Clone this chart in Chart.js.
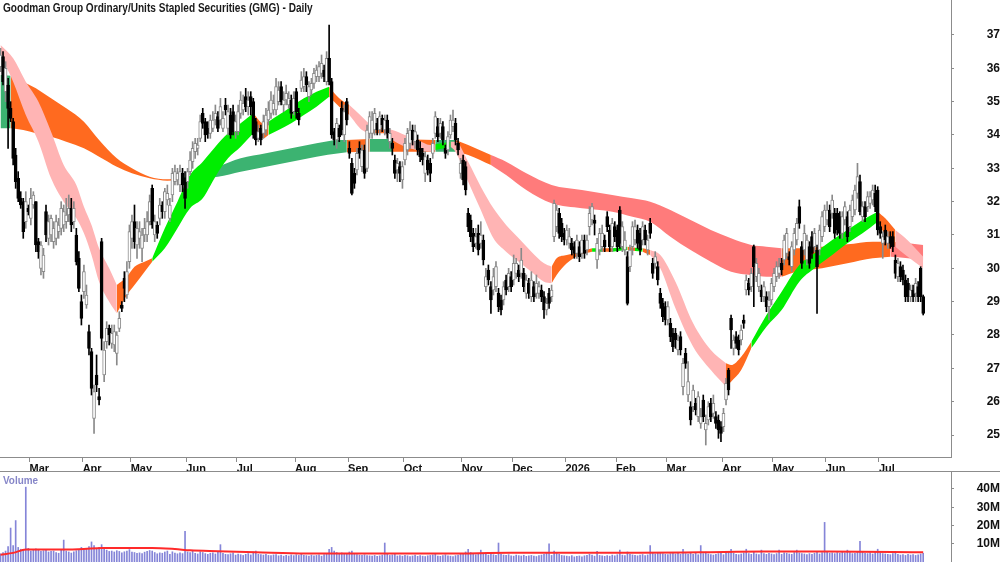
<!DOCTYPE html>
<html>
<head>
<meta charset="utf-8">
<script src="https://cdn.jsdelivr.net/npm/chart.js@4.4.1/dist/chart.umd.min.js"></script>
<style>
  body { margin: 0; background: #fff; }
  #board { position: relative; width: 1000px; height: 562px; overflow: hidden; background: #fff; }
  #priceChart { position: absolute; left: 0; top: 0; }
  #volChart { position: absolute; left: 0; top: 472px; }
  .caption { position: absolute; font-family: "Liberation Sans Narrow", "Liberation Sans", Arial, sans-serif; font-weight: bold; white-space: nowrap; transform-origin: 0 0; }
  #title { left: 3px; top: 1px; font-size: 12px; color: #1a1a1a; transform: scaleX(0.84); }
  #volTitle { left: 3px; top: 474px; font-size: 11px; color: #8686c8; transform: scaleX(0.9); }
  #divider { position: absolute; left: 0; top: 471px; width: 1000px; height: 1px; background: #8c8c8c; }
</style>
</head>
<body>
<div id="board">
  <canvas id="priceChart" width="1000" height="472"></canvas>
  <canvas id="volChart" width="1000" height="90"></canvas>
  <div id="divider"></div>
  <div id="title" class="caption">Goodman Group Ordinary/Units Stapled Securities (GMG) - Daily</div>
  <div id="volTitle" class="caption">Volume</div>
</div>
<script>
// daily candles, index 0 = mid Feb 2025, one entry per trading day
const openP = [
  36.05,36.35,35.3,35.5,34.8,34.4,33.4,32.7,32.1,32.0,
  31.4,31.8,31.5,31.9,32.0,30.8,30.0,29.9,31.7,30.9,
  31.0,30.8,30.9,31.1,31.2,31.3,31.4,31.6,31.8,31.4,
  31.0,30.3,29.0,29.3,28.9,28.1,27.5,25.5,26.8,26.15,
  30.8,26.8,27.8,28.2,27.75,27.7,27.45,28.2,28.9,29.7,
  29.2,30.2,30.9,31.4,30.7,30.9,30.6,31.0,31.0,31.4,
  32.4,31.0,31.3,31.5,31.9,31.7,32.05,31.5,32.2,32.6,
  32.65,32.5,32.85,32.7,32.6,32.9,33.2,33.5,33.6,33.9,
  34.65,34.4,34.2,34.05,34.2,34.45,34.55,34.45,34.2,34.9,
  34.2,34.6,34.7,34.1,34.1,34.65,34.75,35.15,34.85,35.15,
  35.0,34.4,33.9,34.2,34.05,34.15,34.45,34.65,34.75,34.75,
  35.0,35.45,34.9,35.05,34.9,35.05,34.7,35.3,34.65,35.4,
  35.45,35.75,35.15,35.35,35.55,35.75,35.75,35.85,35.95,35.6,
  36.3,35.6,34.1,33.85,34.2,34.8,34.0,35.0,33.6,33.15,
  32.85,32.95,33.6,33.05,33.55,33.0,34.05,34.05,34.15,34.35,
  34.15,34.5,34.15,34.45,33.8,33.75,33.25,32.95,33.05,32.65,
  33.25,33.55,33.75,34.15,33.8,33.85,33.6,33.45,32.85,33.25,
  33.15,33.45,34.05,34.25,34.05,34.25,33.6,33.55,34.0,34.25,
  34.35,33.75,32.85,33.25,33.05,31.65,31.45,31.05,30.75,31.05,
  30.75,30.85,29.45,29.95,29.45,29.35,29.45,29.25,29.05,29.05,
  29.65,29.45,29.75,29.65,29.85,29.95,29.85,29.85,29.25,29.55,
  29.15,29.45,29.25,29.25,29.35,29.15,28.75,29.25,29.15,30.95,
  31.25,31.65,31.35,31.05,30.85,30.75,30.75,30.65,30.45,30.65,
  30.45,30.85,30.55,31.25,31.45,31.45,30.25,30.55,30.65,30.85,
  31.55,31.15,30.65,31.25,31.15,31.75,30.65,30.55,30.35,30.05,
  30.65,30.85,31.15,31.05,30.85,31.15,30.55,31.35,30.15,30.15,
  30.05,29.25,28.95,28.85,28.45,28.35,28.05,28.05,27.55,27.95,
  26.45,27.45,26.2,25.85,25.85,25.95,25.55,25.35,26.05,25.15,
  25.45,25.95,25.65,25.55,25.45,25.25,25.25,26.05,26.95,28.5,
  27.6,27.95,27.85,27.85,28.45,29.35,29.55,29.45,30.65,29.75,
  29.45,29.35,29.15,29.15,28.85,29.05,29.45,29.75,29.85,30.15,
  30.25,30.45,30.35,30.05,30.55,30.85,31.85,30.65,30.55,30.25,
  30.65,30.95,30.65,30.55,30.55,30.95,31.25,31.45,31.75,31.65,
  31.65,31.65,31.55,31.05,31.45,31.55,31.25,31.55,31.75,32.25,
  32.6,31.55,31.85,31.85,31.95,32.05,32.25,32.35,31.25,30.75,
  31.15,30.75,30.95,30.95,30.25,29.75,30.05,29.95,29.65,29.55,
  29.15,29.35,29.25,29.45,30.0,29.15
];
const highP = [
  36.6,36.5,36.2,35.7,35.0,34.5,33.6,32.9,32.3,32.1,
  32.3,31.9,32.4,32.3,32.0,30.9,30.8,30.6,31.9,31.6,
  31.6,31.4,31.6,31.5,32.0,31.9,32.1,32.2,32.1,32.0,
  31.2,30.5,29.2,30.1,29.5,28.3,27.6,26.5,27.4,26.4,
  30.9,27.8,28.4,28.3,28.3,28.3,28.1,28.7,29.0,29.9,
  30.2,31.3,31.6,31.9,31.4,31.4,31.2,31.5,31.7,32.2,
  32.5,31.6,31.4,32.1,32.0,32.4,32.5,32.1,33.0,33.1,
  33.0,33.1,33.0,32.9,33.0,33.5,33.8,33.9,33.9,34.6,
  34.8,34.5,34.4,34.6,34.7,34.9,34.7,35.1,34.7,35.1,
  34.9,34.8,34.9,34.6,34.9,35.3,35.2,35.4,35.3,35.3,
  35.1,34.5,34.3,34.3,34.6,34.8,35.0,35.3,35.2,35.7,
  35.6,35.6,35.3,35.5,35.3,35.2,35.3,35.4,34.8,35.9,
  36.0,35.9,35.6,35.7,36.0,36.1,36.2,36.4,36.1,36.5,
  37.3,35.7,34.2,34.5,34.3,35.0,34.9,35.1,33.8,33.3,
  33.0,33.6,33.8,33.7,33.7,34.3,34.7,34.7,34.8,34.5,
  34.7,34.6,34.6,34.6,34.2,33.9,33.4,33.3,33.2,33.2,
  33.9,34.2,34.4,34.3,34.3,34.0,33.8,33.6,33.5,33.4,
  33.3,33.9,34.7,34.5,34.5,34.4,33.7,34.1,34.6,34.75,
  34.5,33.9,33.3,33.4,33.2,31.8,31.6,31.2,31.2,31.3,
  31.4,31.0,30.0,30.1,29.6,30.0,30.2,29.4,29.2,29.6,
  29.8,30.0,29.9,30.4,30.3,30.1,30.6,30.0,29.8,29.7,
  29.9,29.6,29.8,29.6,29.5,29.3,29.1,29.4,29.5,32.05,
  31.9,31.8,31.5,31.2,31.3,31.2,30.9,30.8,31.0,30.8,
  31.0,31.0,31.0,31.85,31.95,31.6,30.9,31.2,31.3,31.0,
  31.7,31.3,31.5,31.4,31.3,31.85,31.4,31.1,30.5,30.7,
  31.4,31.45,31.3,31.2,31.4,31.3,31.0,31.5,30.3,30.5,
  30.2,29.4,29.1,29.0,29.0,28.5,28.2,28.2,28.0,28.1,
  27.3,27.6,27.2,26.0,26.5,26.1,26.3,25.8,26.2,25.6,
  26.0,26.1,26.2,25.7,25.6,25.4,25.8,26.7,27.0,28.6,
  28.0,28.1,28.0,28.3,28.6,29.8,29.7,30.0,30.7,30.3,
  30.0,29.5,29.6,29.3,29.3,29.7,30.0,30.2,30.3,30.3,
  31.0,31.2,30.5,30.8,31.2,31.5,32.05,30.8,31.3,31.0,
  30.8,31.1,31.2,30.7,31.3,31.7,31.9,32.0,31.9,32.2,
  31.8,31.8,31.7,31.7,32.0,31.7,31.9,32.2,32.5,33.15,
  32.8,32.0,32.0,32.3,32.3,32.5,32.5,32.45,31.4,31.1,
  31.3,31.1,31.1,31.1,30.4,30.3,30.2,30.1,29.8,29.7,
  29.5,29.5,29.7,29.6,30.05,29.2
];
const lowP = [
  35.9,35.5,35.0,33.6,34.4,33.1,32.4,32.0,31.8,30.9,
  31.2,31.6,31.3,31.8,30.5,30.3,29.8,29.7,30.8,30.7,
  30.8,30.6,30.7,30.9,31.0,31.1,31.2,31.4,31.1,31.2,
  30.1,29.3,28.3,29.1,28.8,27.4,26.2,25.05,26.3,25.9,
  27.55,26.6,27.6,27.7,27.6,27.5,27.1,28.1,28.7,29.0,
  29.1,30.0,30.6,30.6,30.3,30.6,30.2,30.8,30.8,31.3,
  31.2,30.8,30.9,31.3,31.5,31.5,31.9,31.4,32.0,32.5,
  32.5,32.3,32.3,31.8,32.4,32.8,33.0,33.3,33.4,33.8,
  34.2,33.8,33.9,33.9,34.1,34.3,34.1,34.3,34.1,34.6,
  34.0,33.9,34.0,33.9,34.0,34.5,34.6,34.7,34.6,34.6,
  33.9,33.7,33.8,33.7,33.9,34.0,34.3,34.5,34.6,34.6,
  34.9,34.9,34.7,34.9,34.8,34.5,34.6,34.5,34.3,35.3,
  35.3,35.3,35.0,35.2,35.4,35.6,35.6,35.7,35.6,35.5,
  35.5,33.9,33.7,33.6,33.8,34.0,33.8,34.3,33.3,32.2,
  32.4,32.8,33.3,32.9,32.7,32.9,33.9,33.9,34.0,34.0,
  34.0,34.1,34.0,33.9,33.6,33.4,32.7,32.6,32.6,32.4,
  33.1,33.4,33.6,33.7,33.6,33.4,33.2,33.1,32.6,32.8,
  32.6,33.3,33.9,33.8,33.9,33.7,33.3,33.4,33.9,34.1,
  33.7,33.4,32.7,32.5,32.2,31.1,30.8,30.5,30.6,30.4,
  30.6,30.1,29.3,29.5,28.65,29.2,29.3,28.7,28.6,28.9,
  29.2,29.3,29.3,29.5,29.7,29.6,29.7,29.3,29.1,29.1,
  29.0,29.0,29.1,29.1,29.0,28.5,28.6,28.8,29.0,30.8,
  31.1,30.9,30.8,30.7,30.7,30.6,30.4,30.3,30.3,30.2,
  30.3,30.3,30.4,31.0,31.3,31.0,30.0,30.4,30.5,30.5,
  31.1,30.5,30.5,30.8,30.5,30.6,30.5,30.4,28.9,29.9,
  30.4,30.7,30.6,30.4,30.7,30.7,30.4,30.9,29.7,30.0,
  29.5,28.8,28.4,28.3,28.3,27.8,27.5,27.6,27.4,27.4,
  26.2,27.0,26.0,25.3,25.7,25.6,25.4,25.2,25.4,24.7,
  25.3,25.4,25.5,25.2,24.9,24.8,25.1,25.9,26.2,27.6,
  27.4,27.6,27.4,27.7,28.2,29.2,29.2,29.3,28.85,29.6,
  29.3,29.0,29.0,28.7,28.45,28.9,29.3,29.6,29.7,29.8,
  30.1,30.3,30.1,29.9,30.4,30.7,31.2,30.0,30.4,30.1,
  30.0,30.3,30.5,28.65,30.4,30.8,31.1,31.3,31.1,31.5,
  30.9,31.0,30.9,30.9,31.3,30.8,31.1,31.4,31.6,32.1,
  31.6,31.4,31.4,31.7,31.8,31.9,31.7,31.0,30.9,30.3,
  30.7,30.6,30.6,30.5,29.7,29.6,29.6,29.5,29.0,29.0,
  29.0,29.0,29.0,29.0,29.0,28.6
];
const closeP = [
  36.4,35.6,36.0,34.8,34.5,33.3,32.6,32.1,31.9,31.1,
  32.0,31.7,32.1,32.2,30.7,30.5,30.7,30.4,31.0,31.4,
  31.5,31.2,31.4,31.3,31.8,31.7,31.6,31.8,31.3,31.8,
  30.2,29.4,28.5,29.9,29.2,27.6,26.4,26.3,26.5,26.05,
  27.9,27.55,28.2,28.0,28.05,28.1,28.0,28.5,28.8,29.4,
  29.9,31.1,31.4,30.8,31.2,31.1,31.0,31.2,31.4,32.0,
  31.3,31.4,31.05,31.9,31.7,32.3,32.25,31.9,32.85,32.9,
  32.85,32.9,32.5,32.1,32.9,33.25,33.6,33.75,33.7,34.4,
  34.35,34.0,34.05,34.45,34.45,34.65,34.2,34.85,34.5,34.75,
  34.7,34.0,34.1,34.4,34.7,35.05,34.95,34.85,35.05,34.85,
  34.0,33.85,34.1,33.85,34.4,34.6,34.75,35.05,34.95,35.45,
  35.35,35.0,35.05,35.25,35.1,34.65,35.1,34.7,34.45,35.65,
  35.75,35.5,35.45,35.55,35.85,35.95,36.05,36.15,35.75,36.3,
  35.6,34.0,33.85,34.35,33.95,34.15,34.7,34.45,33.45,32.25,
  32.55,33.45,33.45,33.55,32.85,34.15,34.55,34.45,34.65,34.15,
  34.55,34.3,34.45,34.05,34.05,33.6,32.85,33.15,32.85,33.05,
  33.75,34.05,34.15,33.85,34.1,33.55,33.35,33.25,33.35,32.95,
  32.85,33.75,34.55,33.95,34.35,33.85,33.45,33.95,34.45,34.45,
  33.85,33.55,33.15,32.65,32.35,31.25,30.95,30.65,30.95,30.55,
  31.0,30.25,29.75,29.65,29.05,29.75,30.05,28.85,28.75,29.45,
  29.35,29.85,29.45,30.15,30.15,29.75,30.25,29.45,29.65,29.25,
  29.65,29.15,29.55,29.45,29.15,28.75,28.95,28.95,29.35,31.95,
  31.75,31.05,30.95,30.85,31.15,30.95,30.55,30.45,30.85,30.35,
  30.85,30.45,30.85,31.65,31.85,31.35,30.75,31.05,31.05,30.65,
  31.25,30.65,31.35,30.95,30.65,30.75,31.25,30.85,28.95,30.55,
  31.25,31.25,30.75,30.55,31.25,30.85,30.85,31.05,29.85,30.35,
  29.65,28.95,28.55,28.45,28.85,27.95,27.65,27.85,27.85,27.55,
  27.15,27.15,26.6,25.45,26.35,25.75,26.15,25.55,25.55,25.35,
  25.85,25.55,25.95,25.35,25.15,25.05,25.65,26.55,26.35,28.15,
  27.85,27.75,27.55,28.15,28.35,29.65,29.35,29.85,30.05,30.15,
  29.85,29.15,29.45,28.85,29.05,29.55,29.85,30.05,30.05,29.95,
  30.85,31.05,30.25,30.65,31.05,31.35,31.35,30.15,31.05,30.85,
  30.15,30.45,31.05,30.05,31.15,31.55,31.75,31.75,31.25,32.05,
  31.05,31.15,31.05,31.55,31.85,30.95,31.75,32.05,32.35,32.75,
  31.7,31.85,31.55,32.15,32.15,32.35,31.85,31.15,31.05,30.95,
  30.85,30.95,30.75,30.65,29.85,30.15,29.75,29.65,29.15,29.15,
  29.35,29.15,29.55,29.15,29.15,28.65
];
// volume in millions
const volume = [
  4.5,5.2,6.0,8.5,18.6,9.0,22.7,8.0,7.0,6.5,
  41.0,7.5,6.0,6.8,7.2,6.5,5.8,6.2,7.0,5.5,
  5.8,6.0,5.2,4.8,6.5,12.0,6.0,5.5,4.9,5.6,
  6.2,7.0,8.0,6.5,7.2,8.5,11.0,9.0,7.5,8.0,
  9.5,8.0,6.5,5.8,6.0,5.5,6.2,5.8,5.0,5.6,
  6.0,6.8,5.5,5.2,4.8,5.0,4.6,5.4,5.8,6.3,
  6.0,5.2,4.5,5.0,4.8,5.5,6.0,4.2,5.6,4.9,
  4.5,5.0,4.6,16.8,5.5,5.2,6.0,4.8,4.4,5.6,
  5.2,4.6,4.2,4.8,5.0,4.4,5.6,9.5,4.8,4.2,
  4.0,4.5,5.0,3.8,4.4,4.0,3.6,4.2,4.6,3.9,
  5.5,6.0,4.2,4.0,3.8,4.2,3.6,3.5,3.9,4.1,
  3.4,3.8,3.2,3.6,3.3,3.9,3.5,4.0,3.6,4.4,
  3.7,3.5,3.3,3.8,3.4,3.6,3.9,3.2,4.0,4.6,
  7.0,8.0,6.0,5.2,4.6,5.0,4.4,4.2,5.5,6.0,
  4.6,4.0,3.8,3.6,4.0,3.5,3.4,3.2,3.6,3.1,
  3.4,3.8,10.4,4.2,3.6,3.9,4.4,3.3,3.5,3.2,
  3.6,3.4,3.0,3.3,3.8,3.1,3.5,3.2,3.0,3.4,
  3.6,3.9,4.5,3.3,3.1,3.5,4.0,3.4,3.2,3.0,
  3.5,3.8,4.2,4.8,5.5,7.0,5.2,4.6,4.0,4.4,
  6.5,4.2,5.0,3.8,4.6,4.0,3.6,10.4,4.4,3.8,
  3.6,4.0,3.4,3.2,3.8,3.5,3.3,3.7,3.1,3.4,
  3.6,3.2,3.0,3.5,3.8,4.2,4.8,10.0,3.6,6.0,
  4.8,4.2,3.6,3.4,3.2,3.0,3.5,2.8,3.1,3.3,
  2.9,3.4,3.6,4.2,3.8,3.2,5.8,3.6,3.4,3.1,
  3.5,3.2,3.8,3.4,4.0,6.5,3.8,3.5,5.5,4.2,
  3.9,3.6,3.4,3.8,4.1,3.5,3.9,9.0,5.2,4.4,
  4.8,5.0,4.6,4.2,4.0,4.6,5.2,4.4,4.8,4.2,
  7.0,4.6,4.4,5.0,4.2,4.8,4.0,9.0,4.6,5.4,
  4.4,4.0,3.8,4.2,4.6,4.8,4.0,5.2,5.8,7.0,
  4.8,4.2,4.0,4.4,5.0,7.0,4.6,4.2,5.5,4.4,
  4.0,6.5,4.6,4.2,4.8,4.4,4.0,4.6,6.5,4.2,
  5.0,4.8,4.4,4.2,5.2,6.5,5.0,4.6,4.4,4.0,
  4.6,4.2,4.8,5.6,4.4,5.2,21.7,5.5,4.8,5.0,
  4.6,5.2,4.8,5.8,5.0,6.5,5.2,4.6,4.8,5.4,
  11.3,5.6,4.8,4.6,5.0,4.4,5.2,7.0,5.0,4.6,
  4.4,4.2,4.0,4.6,5.0,4.2,3.8,4.0,3.6,4.2,
  3.8,4.0,3.6,3.9,4.4,4.8
];
// volume moving average, read at a few days
const volAvgIdx = [0,5,10,25,33,40,50,60,69,75,86,101,121,151,176,202,226,252,277,302,327,353,365];
const volAvg = [4.0,5.0,6.8,6.8,7.1,7.7,7.7,7.7,7.1,6.4,5.9,5.3,4.6,4.6,4.6,5.0,5.0,5.0,5.3,5.7,5.7,5.5,5.3];

// short-term ribbon (fast averages): G rising, P falling, O mixed
const shortIdx = [0,5,10,15,20,25,30,33,36,39,43,46,50,53,57,60,65,70,75,80,
  85,90,95,100,104,106,110,115,120,125,130,134,138,143,147,152,155,160,165,170,
  172,178,180,185,190,195,200,205,210,215,218,220,224,229,234,238,242,248,251,254,
  257,261,267,274,281,287,289,293,297,303,309,316,322,329,335,341,347,350,354,358,365];
const shortHi = [36.7,36.3,35.6,35.0,34.1,33.1,32.5,31.85,31.3,30.6,30.0,29.5,29.75,30.05,30.2,30.3,31.2,32.0,32.8,33.2,
  33.65,34.05,34.35,34.65,34.35,34.4,34.6,34.85,35.1,35.3,35.45,35.1,34.9,34.55,34.25,34.2,34.15,34.0,33.85,33.7,
  33.72,33.8,33.8,33.2,32.45,31.8,31.3,30.9,30.5,30.15,30.05,30.3,30.4,30.5,30.6,30.6,30.6,30.65,30.62,30.6,
  30.55,30.4,29.6,28.35,27.55,27.15,27.1,27.35,27.8,28.6,29.3,30.1,30.45,30.85,31.15,31.45,31.7,31.5,31.15,30.9,30.35];
const shortLo = [36.4,35.6,34.6,33.8,32.7,32.0,31.5,31.05,30.4,29.6,29.0,28.65,29.2,29.5,29.9,30.2,30.6,31.2,31.8,32.1,
  32.75,33.3,33.65,34.05,33.9,34.0,34.15,34.35,34.6,34.85,35.15,34.85,34.6,34.15,34.05,34.05,33.85,33.65,33.55,33.5,
  33.55,33.65,33.5,32.6,31.75,30.9,30.5,30.2,29.9,29.6,29.55,29.8,30.15,30.4,30.5,30.5,30.5,30.55,30.52,30.5,
  30.4,30.0,28.8,27.65,26.95,26.45,26.6,26.95,27.6,28.25,28.75,29.6,30.0,30.4,30.75,31.05,31.4,31.0,30.65,30.4,30.0];
const shortState = ['P','P','P','P','P','P','P','P','P','P','P','O','O','O','O','G','G','G','G','G',
  'G','G','G','O','O','G','G','G','G','G','O','O','P','P','O','P','P','P','P','P',
  'G','P','P','P','P','P','P','P','P','P','O','O','O','O','G','O','G','O','G','O',
  'P','P','P','P','P','O','O','O','G','G','G','G','G','G','G','G','O','O','P','P','P'];

// long-term ribbon (slow averages): D rising, S falling, O mixed
const longIdx = [0,4,9,14,20,26,33,39,46,52,59,66,70,77,86,95,105,115,125,134,
  137,146,155,172,180,185,194,200,208,218,230,242,250,257,265,273,281,289,297,303,
  309,315,325,335,345,352,355,365];
const longHi = [35.8,35.78,35.6,35.4,35.1,34.8,34.4,33.85,33.3,33.0,32.75,32.67,32.7,32.8,33.05,33.3,33.45,33.6,33.75,33.85,
  33.85,33.88,33.88,33.85,33.85,33.7,33.4,33.2,32.85,32.5,32.35,32.2,32.1,32.0,31.75,31.45,31.15,30.9,30.7,30.65,
  30.6,30.6,30.65,30.72,30.8,30.8,30.78,30.7];
const longLo = [34.2,34.2,34.15,34.05,33.95,33.8,33.6,33.35,33.05,32.85,32.7,32.63,32.65,32.7,32.75,32.9,33.05,33.2,33.35,33.45,
  33.48,33.5,33.5,33.5,33.5,33.4,33.1,32.8,32.35,31.95,31.8,31.7,31.55,31.4,30.95,30.55,30.2,29.9,29.8,29.75,
  29.75,29.9,30.0,30.15,30.3,30.35,30.33,30.25];
const longState = ['D','O','O','O','O','O','O','O','O','O','O','O','D','D','D','D','D','D','D','D',
  'O','D','O','D','O','O','S','S','S','S','S','S','S','S','S','S','S','S','S','S',
  'O','O','O','O','O','S','S','S'];

const monthStart = [12,33,52,74,94,117,138,160,183,203,224,244,264,286,306,327,348];
const monthLabels = ['Mar','Apr','May','Jun','Jul','Aug','Sep','Oct','Nov','Dec','2026','Feb','Mar','Apr','May','Jun','Jul'];
const priceTicks = [25,26,27,28,29,30,31,32,33,34,35,36,37];
const volumeTicks = [10,20,30,40];

const FONT = '"Liberation Sans Narrow", "Liberation Sans", Arial, sans-serif';
const AXIS = '#8c8c8c';
const X_MIN = -0.2, X_MAX = 376;

const shortColors = { G: '#00ee00', P: '#ffb4b4', O: '#ff6a1f' };
const longColors = { D: '#3cb371', S: '#ff7b7b', O: '#ff6a1f' };

// one low/high pair of line datasets per run of the same colour
const ribbonSets = (idx, hi, lo, state, palette, order) => {
    const sets = [];
    let s = 0;
    while (s < idx.length - 1) {
        let e = s;
        while (e < idx.length - 1 && state[e] === state[s]) e++;
        const lowPts = [], highPts = [];
        for (let k = s; k <= e; k++) {
            lowPts.push({ x: idx[k], y: lo[k] });
            highPts.push({ x: idx[k], y: hi[k] });
        }
        const base = { type: 'line', borderColor: 'rgba(0,0,0,0)', borderWidth: 0, pointRadius: 0,
            cubicInterpolationMode: 'monotone', order };
        sets.push({ ...base, data: lowPts, fill: false });
        sets.push({ ...base, data: highPts, fill: '-1', backgroundColor: palette[state[s]] });
        s = e;
    }
    return sets;
};

const isUp = closeP.map((c, i) => c >= openP[i]);

const wickSet = {
    type: 'bar',
    data: highP.map((h, i) => ({ x: i, y: [lowP[i], h] })),
    backgroundColor: isUp.map(u => u ? '#8a8a8a' : '#000'),
    barThickness: 1,
    grouped: false,
    order: 1
};
const bodySet = {
    type: 'bar',
    data: openP.map((o, i) => ({ x: i, y: [Math.min(o, closeP[i]), Math.max(o, closeP[i])] })),
    backgroundColor: isUp.map(u => u ? '#fff' : '#000'),
    borderColor: isUp.map(u => u ? '#8a8a8a' : '#000'),
    borderWidth: 1,
    borderSkipped: false,
    barThickness: 3,
    grouped: false,
    order: 0
};

const yAxis = (min, max, ticks, pad, fmt) => ({
    position: 'right',
    min, max,
    grid: { drawOnChartArea: false, drawTicks: true, tickLength: 3, color: AXIS },
    border: { display: true, color: AXIS },
    afterBuildTicks: s => { s.ticks = ticks.map(v => ({ value: v })); },
    ticks: { crossAlign: 'far', padding: pad, color: '#111', font: { family: FONT, size: 12, weight: 'bold' }, callback: fmt },
    afterFit: s => { s.width = 49; s.paddingTop = 0; s.paddingBottom = 0; }
});

new Chart(document.getElementById('priceChart'), {
    type: 'bar',
    data: {
        datasets: [
            ...ribbonSets(longIdx, longHi, longLo, longState, longColors, 3),
            ...ribbonSets(shortIdx, shortHi, shortLo, shortState, shortColors, 2),
            wickSet,
            bodySet
        ]
    },
    options: {
        responsive: false,
        animation: false,
        devicePixelRatio: 1,
        layout: { padding: 0 },
        plugins: { legend: { display: false }, tooltip: { enabled: false } },
        scales: {
            x: {
                type: 'linear', min: X_MIN, max: X_MAX, offset: false,
                grid: { drawOnChartArea: false, drawTicks: true, tickLength: 5, color: AXIS, offset: false },
                border: { display: true, color: AXIS },
                afterBuildTicks: s => { s.ticks = monthStart.map(v => ({ value: v - 0.5 })); },
                ticks: {
                    autoSkip: false, maxRotation: 0, align: 'start', padding: 0, color: '#111',
                    font: { family: FONT, size: 11, weight: 'bold' },
                    callback: (v, k) => monthLabels[k]
                },
                afterFit: s => { s.height = 15; s.paddingLeft = 0; s.paddingRight = 0; }
            },
            y: yAxis(24.34, 38.05, priceTicks, 33, v => String(v))
        }
    }
});

new Chart(document.getElementById('volChart'), {
    type: 'bar',
    data: {
        datasets: [
            {
                type: 'line',
                data: volAvgIdx.map((x, k) => ({ x, y: volAvg[k] })),
                borderColor: '#ff2a2a',
                borderWidth: 2,
                pointRadius: 0,
                cubicInterpolationMode: 'monotone',
                order: 0
            },
            {
                type: 'bar',
                data: volume.map((v, i) => ({ x: i, y: v })),
                backgroundColor: '#8585d8',
                barThickness: 1,
                order: 1
            }
        ]
    },
    options: {
        responsive: false,
        animation: false,
        devicePixelRatio: 1,
        layout: { padding: 0 },
        plugins: { legend: { display: false }, tooltip: { enabled: false } },
        scales: {
            x: { type: 'linear', min: X_MIN, max: X_MAX, offset: false, display: false },
            y: yAxis(0, 49.3, volumeTicks, 25, v => v + 'M')
        }
    }
});
</script>
</body>
</html>
